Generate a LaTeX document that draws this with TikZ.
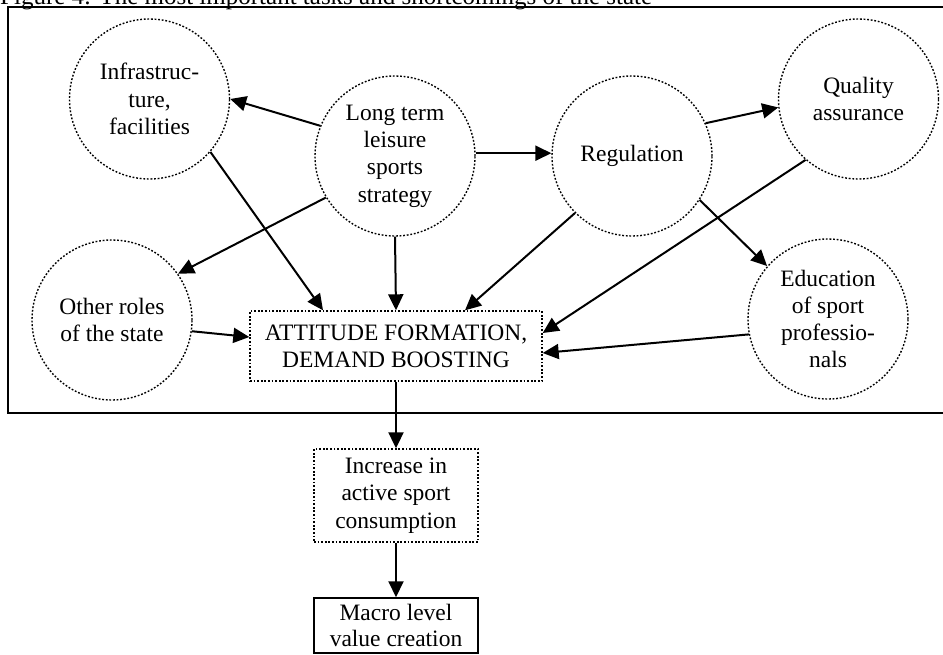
\documentclass[tikz,border=0pt]{standalone}
\usepackage{fontspec}
\setmainfont{Liberation Serif}
\usetikzlibrary{arrows.meta,calc}

\tikzset{
  task/.style={circle, draw, line width=1.4pt, dash pattern=on 1.8pt off 1.8pt,
    minimum size=160pt, inner sep=0pt, align=center,
    font=\fontsize{23.5}{27.3}\selectfont},
  dotbox/.style={rectangle, draw, line width=1.4pt, dash pattern=on 1.8pt off 1.8pt,
    inner sep=0pt, align=center, font=\fontsize{23.5}{27.3}\selectfont},
  solidbox/.style={rectangle, draw, line width=1.5pt,
    inner sep=0pt, align=center, font=\fontsize{23.5}{25.5}\selectfont},
  link/.style={line width=2pt, -{Triangle[length=16pt,width=15pt]}},
}

\begin{document}
\begin{tikzpicture}[x=1pt, y=-1pt]
  \useasboundingbox (0,0) rectangle (943,654);
  \clip (0,0) rectangle (943,654);

  % caption, partly above the top edge
  \node[anchor=base west, inner sep=0pt, font=\fontsize{25}{29}\selectfont]
    (title) at (0,4) {Figure 4: The most important tasks and shortcomings of the state};

  % frame around the role of the state
  \draw[line width=1.8pt] (8,7) rectangle (960,413);

  % tasks of the state
  \node[task] (infra) at (149.5,99) {Infrastruc-\\ture,\\facilities};
  \node[task] (lts)   at (395,156)  {Long term\\leisure\\sports\\strategy};
  \node[task] (reg)   at (632,156)  {Regulation};
  \node[task] (qa)    at (858.5,99) {Quality\\assurance};
  \node[task] (other) at (112,320)  {Other roles\\of the state};
  \node[task] (edu)   at (828,319)  {Education\\of sport\\professio-\\nals};

  % outcome chain
  \node[dotbox, minimum width=292pt, minimum height=70pt] (att) at (396,346)
    {ATTITUDE FORMATION,\\DEMAND BOOSTING};
  \node[dotbox, minimum width=164pt, minimum height=93pt] (inc) at (396,495.5)
    {Increase in\\active sport\\consumption};
  \node[solidbox, minimum width=164pt, minimum height=55pt] (macro) at (396,625.5)
    {Macro level\\value creation};

  % influences
  \draw[link] (lts.158) -- (infra.0);
  \draw[link] (infra.-41) -- ([xshift=-73pt]att.north);
  \draw[link] (lts.211) -- (other.35);
  \draw[link] (lts.south) -- (att.north);
  \draw[link] (lts.2) -- (reg.178);
  \draw[link] (reg.225) -- ([xshift=69pt]att.north);
  \draw[link] (reg.24) -- (qa.186);
  \draw[link] (reg.-33) -- (edu.139);
  \draw[link] (qa.229) -- ([yshift=13pt]att.east);
  \draw[link] (edu.191) -- ([yshift=-7pt]att.east);
  \draw[link] (other.-8) -- ([yshift=9pt]att.west);
  \draw[link] (att.south) -- (inc.north);
  \draw[link] (inc.south) -- (macro.north);
\end{tikzpicture}
\end{document}
